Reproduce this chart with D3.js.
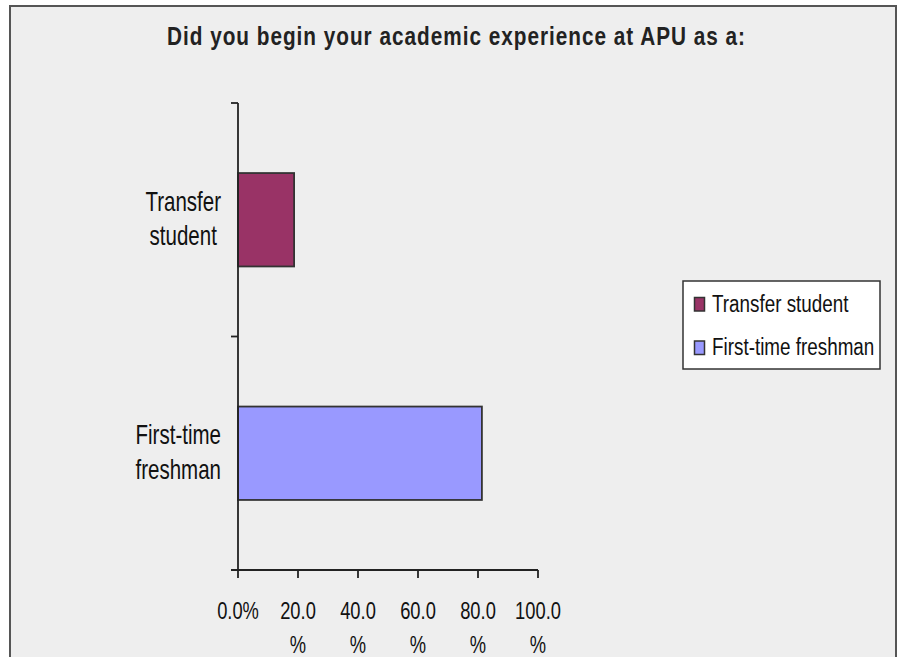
<!DOCTYPE html>
<html>
<head>
<meta charset="utf-8">
<script src="https://cdn.jsdelivr.net/npm/d3@7"></script>
<style>
  body { margin: 0; background: #fff; }
  svg text { font-family: "Liberation Sans", Arial, sans-serif; fill: #111; }
</style>
</head>
<body>
<svg id="chart" width="898" height="657"></svg>
<script>
// Chart data.
const title = 'Did you begin your academic experience at APU as a:';
const categories = ['Transfer student', 'First-time freshman'];
const categoryLines = [['Transfer', 'student'], ['First-time', 'freshman']];
const values = [18.7, 81.3];
const colors = ['#993366', '#9999ff'];
const tickValues = [0, 20, 40, 60, 80, 100];
const tickLabels = [['0.0%'], ['20.0', '%'], ['40.0', '%'], ['60.0', '%'], ['80.0', '%'], ['100.0', '%']];

const svg = d3.select('#chart');

// Condensed text: no narrow font installed, so squeeze horizontally.
function addText(parent, x, y, str, size, squeeze, anchor) {
  const g = parent.append('g')
    .attr('transform', `translate(${x}, ${y}) scale(${squeeze}, 1)`);
  const t = g.append('text')
    .attr('text-anchor', anchor || 'start')
    .style('font-size', size + 'px')
    .text(str);
  return { g, t, width: () => t.node().getComputedTextLength() * squeeze };
}

// Outer frame.
svg.append('rect')
  .attr('x', 10).attr('y', 6)
  .attr('width', 886).attr('height', 670)
  .attr('fill', '#eeeeee')
  .attr('stroke', '#555').attr('stroke-width', 2);

// Title: narrow glyphs, spread out to the reference width.
const titleSqueeze = 0.83;
svg.append('g')
  .attr('transform', `translate(456, 45) scale(${titleSqueeze}, 1)`)
  .append('text')
  .attr('text-anchor', 'middle')
  .attr('textLength', 578 / titleSqueeze)
  .attr('lengthAdjust', 'spacing')
  .style('font-size', '25px')
  .style('font-weight', 'bold')
  .style('fill', '#222')
  .text(title);

// Scales.
const plot = { left: 238, right: 538, top: 103, bottom: 570 };

const xScale = d3.scaleLinear()
  .domain([0, 100])
  .range([plot.left, plot.right]);

const yScale = d3.scaleBand()
  .domain(categories)
  .range([plot.top, plot.bottom])
  .paddingInner(0.6)
  .paddingOuter(0.3);

// Bars.
svg.selectAll('.bar')
  .data(categories)
  .join('rect')
  .attr('class', 'bar')
  .attr('x', xScale(0))
  .attr('y', d => yScale(d))
  .attr('width', (d, i) => xScale(values[i]) - xScale(0))
  .attr('height', yScale.bandwidth())
  .attr('fill', (d, i) => colors[i])
  .attr('stroke', '#333')
  .attr('stroke-width', 1.8);

// Y axis line and ticks at band boundaries.
const axisColor = '#222';
svg.append('line')
  .attr('x1', plot.left).attr('x2', plot.left)
  .attr('y1', plot.top).attr('y2', plot.bottom)
  .attr('stroke', axisColor).attr('stroke-width', 1.8);

const bounds = d3.range(categories.length + 1)
  .map(i => plot.top + i * (plot.bottom - plot.top) / categories.length);
svg.selectAll('.ytick')
  .data(bounds)
  .join('line')
  .attr('x1', plot.left - 7).attr('x2', plot.left)
  .attr('y1', d => d).attr('y2', d => d)
  .attr('stroke', axisColor).attr('stroke-width', 1.8);

// Category labels: wrapped lines centered in a block right-aligned to the axis.
categories.forEach((c, i) => {
  const lines = categoryLines[i];
  const cy = yScale(c) + yScale.bandwidth() / 2;
  const items = lines.map((ln, j) => addText(svg, 0, cy - 9 + j * 34.5, ln, 27, 0.76, 'middle'));
  const maxW = d3.max(items, it => it.width());
  items.forEach((it, j) => {
    it.g.attr('transform', `translate(${plot.left - 17 - maxW / 2}, ${cy - 9 + j * 34.5}) scale(0.76, 1)`);
  });
});

// X axis.
svg.append('line')
  .attr('x1', plot.left - 7).attr('x2', plot.right)
  .attr('y1', plot.bottom).attr('y2', plot.bottom)
  .attr('stroke', axisColor).attr('stroke-width', 1.8);

svg.selectAll('.xtick')
  .data(tickValues)
  .join('line')
  .attr('x1', d => xScale(d)).attr('x2', d => xScale(d))
  .attr('y1', plot.bottom).attr('y2', plot.bottom + 8)
  .attr('stroke', axisColor).attr('stroke-width', 1.8);

tickValues.forEach((v, i) => {
  tickLabels[i].forEach((ln, j) => {
    addText(svg, xScale(v), 619 + j * 34, ln, 23.5, 0.78, 'middle');
  });
});

// Legend.
const legend = svg.append('g').attr('transform', 'translate(683, 281)');
legend.append('rect')
  .attr('width', 197).attr('height', 88)
  .attr('fill', '#fff')
  .attr('stroke', '#333').attr('stroke-width', 1.5);

categories.forEach((c, i) => {
  const base = 30.5 + i * 43.5;
  legend.append('rect')
    .attr('x', 11.5).attr('y', base - 14)
    .attr('width', 10).attr('height', 13.5)
    .attr('fill', colors[i])
    .attr('stroke', '#333').attr('stroke-width', 1.5);
  addText(legend, 29, base, c, 23, 0.82, 'start');
});
</script>
</body>
</html>
